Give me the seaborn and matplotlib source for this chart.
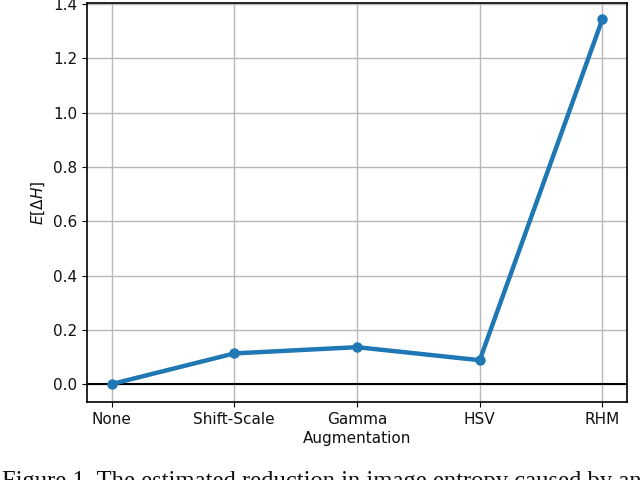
import matplotlib
matplotlib.use("Agg")
import matplotlib.pyplot as plt
import pandas as pd
import seaborn as sns

# values
augmentations = ["None", "Shift-Scale", "Gamma", "HSV", "RHM"]
entropy_drop = [0.0, 0.113, 0.136, 0.088, 1.345]
y_ticks = [0.0, 0.2, 0.4, 0.6, 0.8, 1.0, 1.2, 1.4]
caption = "Figure 1. The estimated reduction in image entropy caused by an"

df = pd.DataFrame({"Augmentation": augmentations, "dH": entropy_drop})

sns.set_style("ticks")
plt.rcParams["font.family"] = ["DejaVu Sans"]

fig = plt.figure(figsize=(6.4, 4.8), dpi=100)
ax = fig.add_axes([87 / 640, 1 - 402 / 480, 540 / 640, 399 / 480])

sns.lineplot(data=df, x="Augmentation", y="dH", ax=ax, color="#1f77b4",
             linewidth=3.2, marker="o", markersize=7.5, markeredgewidth=0,
             sort=False)
ax.axhline(0, color="black", linewidth=1.5, zorder=1)

ax.set_xlim(-0.2, 4.2)
ax.set_ylim(-0.066, 1.404)
ax.set_yticks(y_ticks)
ax.set_yticklabels([f"{v:.1f}" for v in y_ticks])
ax.grid(True, color="#b8b8b8", linewidth=1)
ax.set_axisbelow(True)
ax.tick_params(labelsize=11, colors="black", labelcolor="#111111", length=3.5, width=0.8)
for s in ax.spines.values():
    s.set_color("black")
    s.set_linewidth(1.2)

ax.set_xlabel("Augmentation", fontsize=11, color="#111111", labelpad=3)
ax.set_ylabel(r"$E[\Delta H]$", fontsize=11, color="#111111")

fig.text(0.003, 1 - 471 / 480, caption, ha="left", va="top", fontsize=17.7,
         family=["Liberation Serif", "DejaVu Serif"], color="#111111")

fig.savefig("out.png", dpi=100)
